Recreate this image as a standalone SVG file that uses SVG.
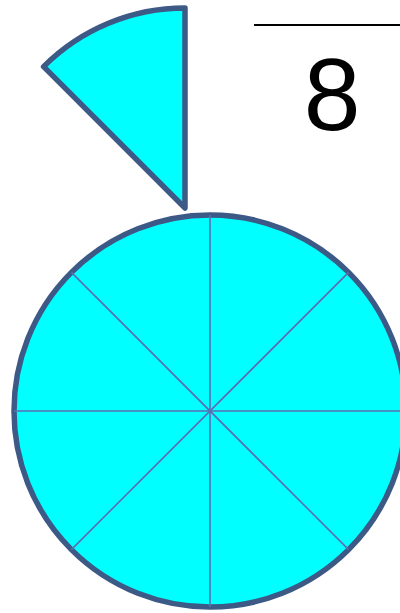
<svg xmlns="http://www.w3.org/2000/svg" width="400" height="613" viewBox="0 0 400 613">
<style>
.piece{fill:#00ffff;stroke:#3d5a87;stroke-width:5.5;stroke-linejoin:round}
.div{stroke:#5b6db3;stroke-width:1.6;fill:none}
.num{font-family:"Liberation Sans",Arial,sans-serif;font-size:102px;fill:#000}
</style>
<rect width="400" height="613" fill="#fff"/>
<g id="wedge">
<path class="piece" d="M185,208 L185,8 A200,200 0 0 0 43.6,66.6 Z"/>
</g>
<g id="circle">
<circle class="piece" cx="210" cy="411" r="196"/>
</g>
<g id="connectors">
<line class="div" x1="210" y1="215" x2="210" y2="607"/>
<line class="div" x1="14" y1="411" x2="406" y2="411"/>
<line class="div" x1="71.4" y1="272.4" x2="348.6" y2="549.6"/>
<line class="div" x1="348.6" y1="272.4" x2="71.4" y2="549.6"/>
</g>
<g id="fraction">
<line x1="254" y1="25" x2="400" y2="25" stroke="#000" stroke-width="2"/>
<text class="num" x="332" y="130" text-anchor="middle">8</text>
</g>
</svg>
